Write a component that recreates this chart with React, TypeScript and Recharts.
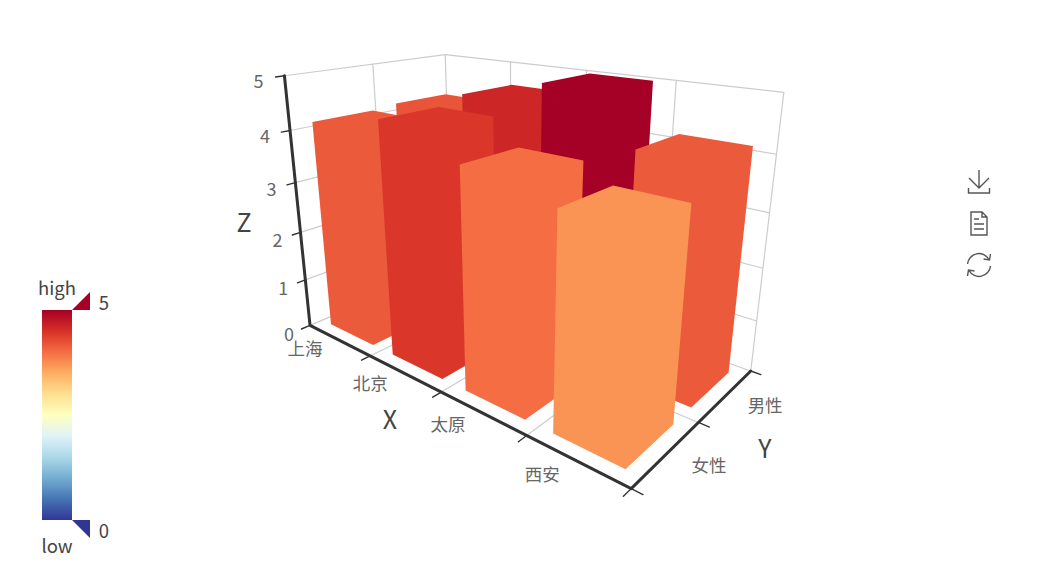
import { ScatterChart, Scatter, XAxis, YAxis } from "recharts";

const xCategories = ["上海", "北京", "太原", "西安"];
const yCategories = ["女性", "男性"];
const zTicks = [0, 1, 2, 3, 4, 5];
const womenValues = [4.15, 4.45, 4.0, 3.7];
const menValues = [4.2, 4.6, 5.0, 4.15];
const zMax = 5;

const colorStops = ["#313695", "#4575b4", "#74add1", "#abd9e9", "#e0f3f8", "#ffffbf", "#fee090", "#fdae61", "#f46d43", "#d73027", "#a50026"];

// box corners (0..1 on each axis) and where they land on the page, used to fit the camera
const calibration = [
  [0, 0, 0, 311, 324],
  [1, 0, 0, 630, 487],
  [1, 1, 0, 750, 371],
  [0, 0, 1, 285, 75],
  [1, 1, 1, 784, 92],
  [0, 1, 1, 445, 54],
  [0.5, 0, 0, 441.7, 393],
  [0.25, 0, 0, 369, 357],
  [0.75, 0, 0, 526, 436.7],
  [1, 0.5, 0, 701, 422],
  [0, 0, 0.8, 290, 131],
  [0, 0, 0.6, 295, 183],
  [0, 0.5, 1, 373, 64],
  [0.25, 1, 1, 510, 62],
  [0.5, 1, 1, 587, 72],
  [0.75, 1, 1, 676, 80],
];

function fitCamera() {
  const n = 11;
  const m = Array.from({ length: n }, () => new Array(n + 1).fill(0));
  const add = (row: number[], b: number) => {
    for (let i = 0; i < n; i++) {
      for (let j = 0; j < n; j++) m[i][j] += row[i] * row[j];
      m[i][n] += row[i] * b;
    }
  };
  calibration.forEach(([u, v, w, px, py]) => {
    const x = px / 1000;
    const y = py / 1000;
    add([u, v, w, 1, 0, 0, 0, 0, -x * u, -x * v, -x * w], x);
    add([0, 0, 0, 0, u, v, w, 1, -y * u, -y * v, -y * w], y);
  });
  for (let c = 0; c < n; c++) {
    let best = c;
    for (let r = c + 1; r < n; r++) if (Math.abs(m[r][c]) > Math.abs(m[best][c])) best = r;
    [m[c], m[best]] = [m[best], m[c]];
    for (let r = 0; r < n; r++) {
      if (r === c) continue;
      const f = m[r][c] / m[c][c];
      for (let k = c; k <= n; k++) m[r][k] -= f * m[c][k];
    }
  }
  return m.map((row, i) => row[n] / row[i]);
}

const cam = fitCamera();
function project(u: number, v: number, w: number) {
  const d = cam[8] * u + cam[9] * v + cam[10] * w + 1;
  return {
    x: (1000 * (cam[0] * u + cam[1] * v + cam[2] * w + cam[3])) / d,
    y: (1000 * (cam[4] * u + cam[5] * v + cam[6] * w + cam[7])) / d,
  };
}

function valueColor(value: number) {
  const t = (value / zMax) * (colorStops.length - 1);
  const i = Math.min(Math.floor(t), colorStops.length - 2);
  const f = t - i;
  const ch = (hex: string, at: number) => parseInt(hex.slice(at, at + 2), 16);
  const mix = (at: number) => Math.round(ch(colorStops[i], at) * (1 - f) + ch(colorStops[i + 1], at) * f);
  return `rgb(${mix(1)},${mix(3)},${mix(5)})`;
}

const xGap = 0.15;
const yGap = 0.15;

function barCorners(xIndex: number, yIndex: number, value: number) {
  const u0 = (xIndex + xGap) / xCategories.length;
  const u1 = (xIndex + 1 - xGap) / xCategories.length;
  const v0 = (yIndex + yGap) / yCategories.length;
  const v1 = (yIndex + 1 - yGap) / yCategories.length;
  const w = value / zMax;
  return [u0, u1].flatMap((u) => [v0, v1].flatMap((v) => [0, w].map((h) => project(u, v, h))));
}

// back row first, so nearer bars paint over the farther ones
const bars = [
  ...menValues.map((value, i) => ({ key: `m${i}`, value, corners: barCorners(i, 1, value) })),
  ...womenValues.map((value, i) => ({ key: `w${i}`, value, corners: barCorners(i, 0, value) })),
];

const seg = (a: number[], b: number[]) => [project(a[0], a[1], a[2]), project(b[0], b[1], b[2])];

const xBounds = xCategories.map((_, i) => (i + 1) / xCategories.length);
const yBounds = yCategories.map((_, i) => (i + 1) / yCategories.length);
const zLevels = zTicks.filter((t) => t > 0).map((t) => t / zMax);

const gridPoints = [
  ...seg([0, 0, 0], [0, 1, 0]),
  ...seg([0, 1, 0], [1, 1, 0]),
  ...xBounds.flatMap((u) => [...seg([u, 0, 0], [u, 1, 0]), ...seg([u, 1, 0], [u, 1, 1])]),
  ...yBounds.flatMap((v) => [...seg([0, v, 0], [1, v, 0]), ...seg([0, v, 0], [0, v, 1])]),
  ...zLevels.flatMap((w) => [...seg([0, 0, w], [0, 1, w]), ...seg([0, 1, w], [1, 1, w])]),
];

const axisPoints = [...seg([0, 0, 0], [0, 0, 1]), ...seg([0, 0, 0], [1, 0, 0]), ...seg([1, 0, 0], [1, 1, 0])];

const tickPoints = [
  ...[0, ...xBounds].flatMap((u) => seg([u, 0, 0], [u, -0.05, 0])),
  ...[0, ...yBounds].flatMap((v) => seg([1, v, 0], [1.025, v, 0])),
  ...zTicks.flatMap((t) => seg([0, 0, t / zMax], [0, -0.045, t / zMax])),
];

const labelStyle = { fontFamily: "'Noto Sans CJK SC', sans-serif" };

const labels = [
  ...xCategories.map((label, i) => {
    const u = (i + 0.5) / xCategories.length;
    const p = project(u, 0, 0);
    return { x: p.x - 34, y: p.y + 6 + 8 * u, label, size: 17.5, fill: "#666" };
  }),
  ...yCategories.map((label, i) => {
    const p = project(1, (i + 0.5) / yCategories.length, 0);
    return { x: p.x + 42 - 3 * i, y: p.y + 11 - 2 * i, label, size: 17.5, fill: "#666" };
  }),
  ...zTicks.map((t) => {
    const w = t / zMax;
    const p = project(0, 0, w);
    return { x: p.x - 21 - 5 * w, y: p.y + 8 - 4 * w, label: String(t), size: 18, fill: "#666" };
  }),
  { x: 390, y: 418, label: "X", size: 25, fill: "#444" },
  { x: 765, y: 447, label: "Y", size: 25, fill: "#444" },
  { x: 244, y: 221, label: "Z", size: 25, fill: "#444" },
  { x: 57, y: 287, label: "high", size: 18.5, fill: "#444" },
  { x: 57, y: 545, label: "low", size: 18.5, fill: "#444" },
  { x: 104, y: 302, label: String(zMax), size: 18.5, fill: "#444" },
  { x: 104, y: 530, label: String(zTicks[0]), size: 18.5, fill: "#444" },
];

const legendBar = [{ x: 42, y: 310 }, { x: 72, y: 520 }];
const highHandle = [{ x: 72, y: 310 }, { x: 90, y: 310 }, { x: 90, y: 292 }];
const lowHandle = [{ x: 72, y: 520 }, { x: 90, y: 520 }, { x: 90, y: 538 }];
const toolIcons = [
  { x: 979, y: 182, icon: "save" },
  { x: 979, y: 224, icon: "data" },
  { x: 979, y: 265, icon: "restore" },
];

const NoDot = () => null;

function hull(points: { x: number; y: number }[]) {
  const s = [...points].sort((a, b) => a.x - b.x || a.y - b.y);
  const cross = (o: any, a: any, b: any) => (a.x - o.x) * (b.y - o.y) - (a.y - o.y) * (b.x - o.x);
  const half = (list: typeof s) => {
    const out: typeof s = [];
    list.forEach((p) => {
      while (out.length >= 2 && cross(out[out.length - 2], out[out.length - 1], p) <= 0) out.pop();
      out.push(p);
    });
    out.pop();
    return out;
  };
  return [...half(s), ...half([...s].reverse())];
}

const toPolygon = (pts: { x: number; y: number }[]) => pts.map((p) => `${p.x},${p.y}`).join(" ");

function pairsPath(points: { x: number; y: number }[]) {
  let d = "";
  for (let i = 0; i + 1 < points.length; i += 2) {
    d += `M${points[i].x} ${points[i].y}L${points[i + 1].x} ${points[i + 1].y}`;
  }
  return d;
}

const segments = (stroke: string, width: number) => (props: any) => (
  <path d={pairsPath(props.points)} stroke={stroke} strokeWidth={width} fill="none" strokeLinecap="round" />
);

const solid = (fill: string) => (props: any) => <polygon points={toPolygon(props.points)} fill={fill} />;

const barShape = (fill: string) => (props: any) => <polygon points={toPolygon(hull(props.points))} fill={fill} />;

const gradientBar = (props: any) => {
  const [a, b] = props.points;
  return (
    <g>
      <defs>
        <linearGradient id="visualMap" x1="0" y1="1" x2="0" y2="0">
          {colorStops.map((c, i) => (
            <stop key={c} offset={i / (colorStops.length - 1)} stopColor={c} />
          ))}
        </linearGradient>
      </defs>
      <rect x={a.x} y={a.y} width={b.x - a.x} height={b.y - a.y} fill="url(#visualMap)" />
    </g>
  );
};

const TextMark = (props: any) => {
  const { label, size, fill } = props.payload;
  return (
    <text x={props.cx} y={props.cy} fontSize={size} fill={fill} textAnchor="middle" dominantBaseline="central" style={labelStyle}>
      {label}
    </text>
  );
};

const iconPaths: Record<string, string> = {
  save: "M0 -12V6M-10 -4L0 6L10 -4M-10.5 6V11H10.5V6",
  data: "M-8 -12H3L8 -7V11H-8ZM3 -12V-7H8M-5 -5H0M-5 0H5M-5 5H5",
  restore: "M-11.5 -1A11.5 11.5 0 0 1 10 -5.5M11.5 -11L10.5 -5L4.5 -6M11.5 1A11.5 11.5 0 0 1 -10 5.5M-11.5 11L-10.5 5L-4.5 6",
};

const ToolIcon = (props: any) => (
  <path
    transform={`translate(${props.cx} ${props.cy})`}
    d={iconPaths[props.payload.icon]}
    stroke="#555"
    strokeWidth={1.4}
    fill="none"
  />
);

export default function App() {
  return (
    <div style={{ position: "absolute", left: 0, top: 0 }}>
      <ScatterChart width={1038} height={567} margin={{ top: 0, right: 0, bottom: 0, left: 0 }}>
        <XAxis type="number" dataKey="x" domain={[0, 1038]} hide allowDataOverflow />
        <YAxis type="number" dataKey="y" domain={[0, 567]} reversed hide allowDataOverflow />
        <Scatter data={gridPoints} shape={NoDot} line={segments("#ccc", 1.2)} isAnimationActive={false} />
        {bars.map((bar) => (
          <Scatter key={bar.key} data={bar.corners} shape={NoDot} line={barShape(valueColor(bar.value))} isAnimationActive={false} />
        ))}
        <Scatter data={axisPoints} shape={NoDot} line={segments("#333", 3)} isAnimationActive={false} />
        <Scatter data={tickPoints} shape={NoDot} line={segments("#333", 1.4)} isAnimationActive={false} />
        <Scatter data={legendBar} shape={NoDot} line={gradientBar} isAnimationActive={false} />
        <Scatter data={highHandle} shape={NoDot} line={solid(colorStops[colorStops.length - 1])} isAnimationActive={false} />
        <Scatter data={lowHandle} shape={NoDot} line={solid(colorStops[0])} isAnimationActive={false} />
        <Scatter data={labels} shape={TextMark} isAnimationActive={false} />
        <Scatter data={toolIcons} shape={ToolIcon} isAnimationActive={false} />
      </ScatterChart>
    </div>
  );
}
